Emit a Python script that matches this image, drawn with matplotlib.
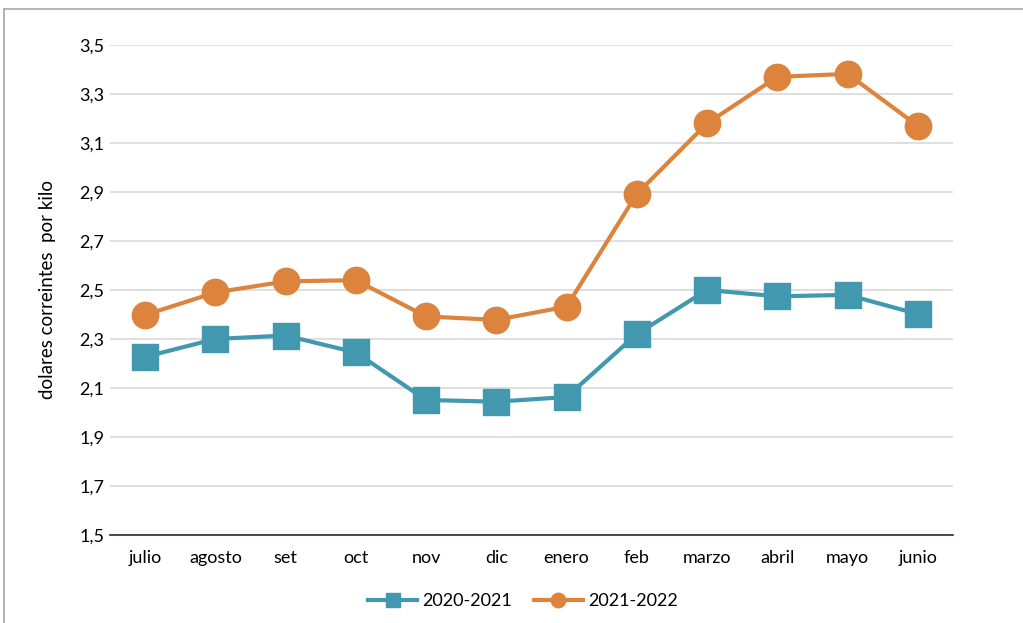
import matplotlib.pyplot as plt
from matplotlib.patches import Rectangle
from matplotlib.ticker import FuncFormatter

meses = ['julio', 'agosto', 'set', 'oct', 'nov', 'dic', 'enero', 'feb', 'marzo', 'abril', 'mayo', 'junio']
precio_2020_21 = [2.227, 2.30, 2.314, 2.245, 2.051, 2.044, 2.063, 2.32, 2.50, 2.474, 2.48, 2.402]
precio_2021_22 = [2.398, 2.49, 2.535, 2.54, 2.392, 2.378, 2.432, 2.892, 3.18, 3.37, 3.382, 3.17]

azul = '#4298AE'
naranja = '#DC843D'

plt.rcParams['font.family'] = ['Lato', 'DejaVu Sans']

fig = plt.figure(figsize=(10.23, 6.23), dpi=100)
ax = fig.add_axes([0.1075, 0.1413, 0.824, 0.7865])

# marco gris del gráfico
fig.patches.append(Rectangle((4 / 1023, -0.1), 1.1, 1 - 9 / 623 + 0.1, transform=fig.transFigure,
                             fill=False, edgecolor='#a6a6a6', linewidth=1.2))

x = range(len(meses))
ax.plot(x, precio_2020_21, color=azul, linewidth=3, marker='s', markersize=19, label='2020-2021', zorder=3)
ax.plot(x, precio_2021_22, color=naranja, linewidth=3, marker='o', markersize=19, label='2021-2022', zorder=3)

ax.set_xlim(-0.5, 11.5)
ax.set_ylim(1.5, 3.5)
ax.set_yticks([1.5, 1.7, 1.9, 2.1, 2.3, 2.5, 2.7, 2.9, 3.1, 3.3, 3.5])
ax.yaxis.set_major_formatter(FuncFormatter(lambda v, p: f'{v:.1f}'.replace('.', ',')))
ax.set_xticks(list(x))
ax.set_xticklabels(meses)
ax.tick_params(length=0, labelsize=13, colors='#000000')
ax.tick_params(axis='x', pad=11)
ax.tick_params(axis='y', pad=4)

ax.grid(axis='y', color='#d9d9d9', linewidth=1.2)
ax.set_axisbelow(True)
for s in ['top', 'right', 'left']:
    ax.spines[s].set_visible(False)
ax.spines['bottom'].set_color('#1f2d3d')
ax.spines['bottom'].set_linewidth(1.2)
ax.spines['bottom'].set_zorder(1)

ax.set_ylabel('dolares correintes  por kilo', fontsize=13.5, labelpad=17)

ax.legend(loc='upper center', bbox_to_anchor=(0.49, -0.085), ncol=2, frameon=False,
          fontsize=13, markerscale=0.55, handlelength=2.7, columnspacing=1.2, handletextpad=0.3)

fig.savefig('out.png', dpi=100)
